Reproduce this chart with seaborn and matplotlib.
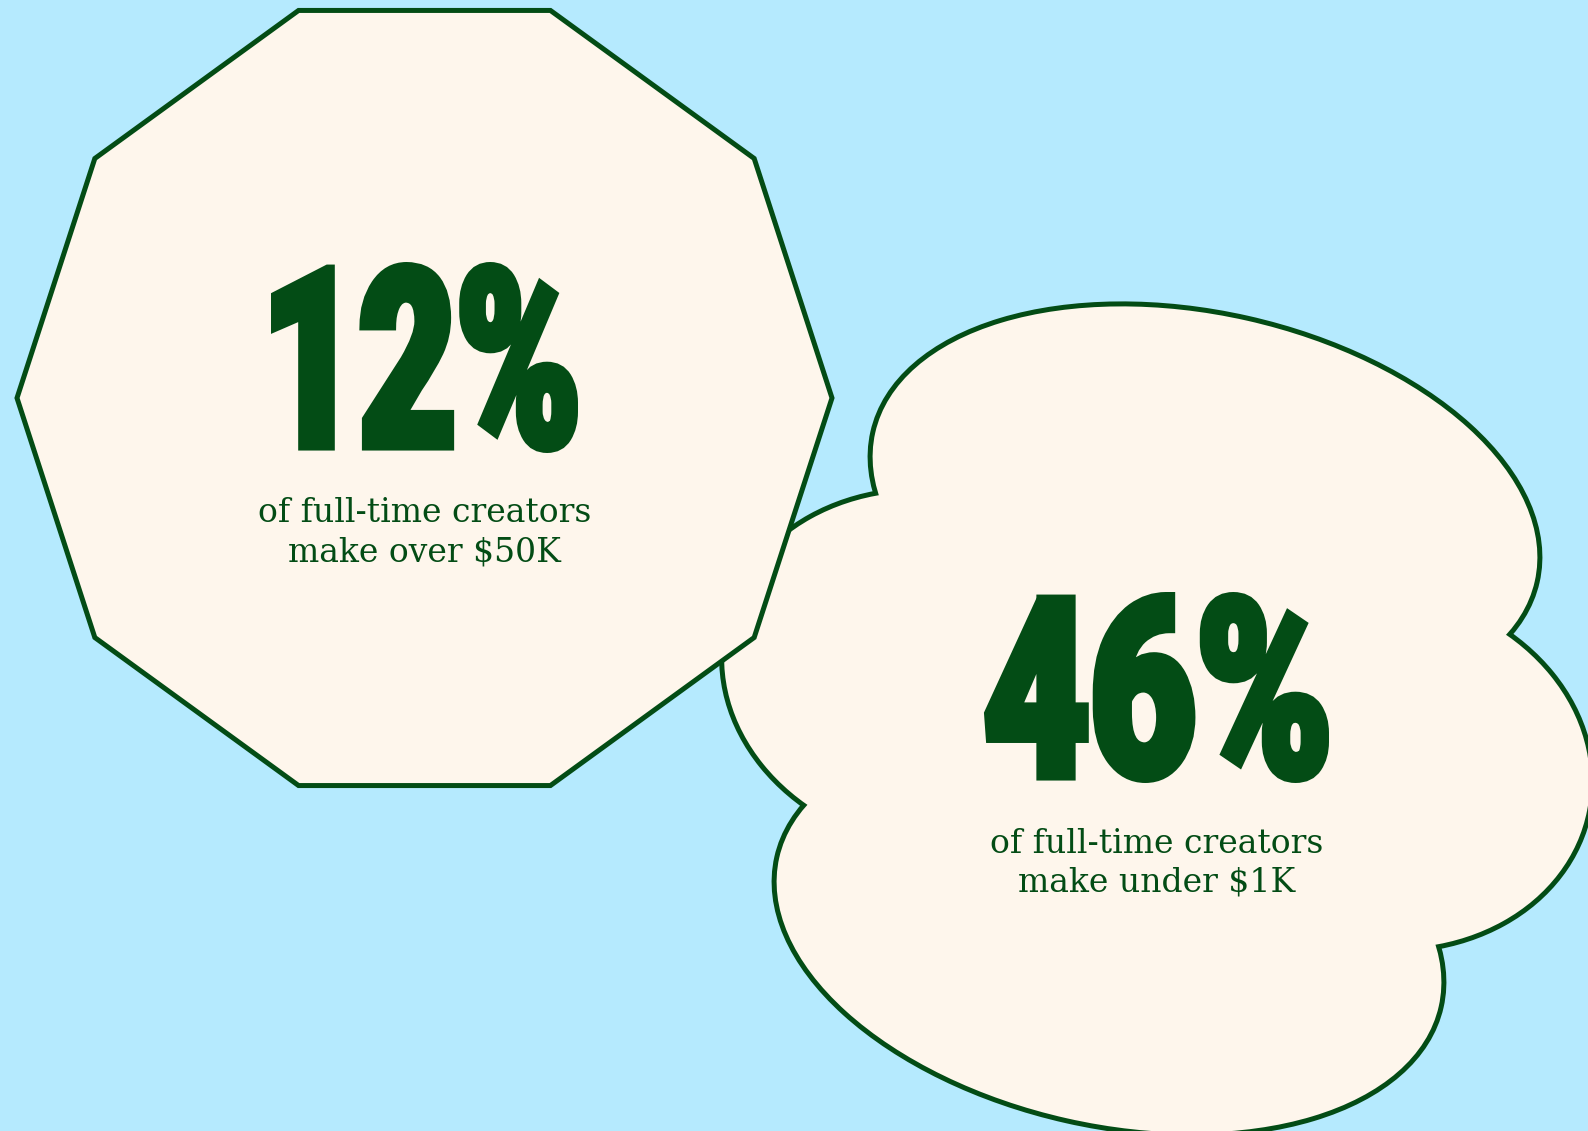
"""
Creator earnings badges: decagon + cloud with two headline stats.
"""
import numpy as np
import matplotlib
matplotlib.use("Agg")
import matplotlib.pyplot as plt
import matplotlib.patheffects as pe
from matplotlib.patches import Ellipse, RegularPolygon
from matplotlib.transforms import Affine2D
from matplotlib.textpath import TextPath
from matplotlib.font_manager import FontProperties
import seaborn as sns

# headline numbers and the captions under them
stat_values = [12, 46]
stat_captions = [
    ["of full-time creators", "make over $50K"],
    ["of full-time creators", "make under $1K"],
]

BG = "#B5EAFE"
CREAM = "#FEF6EC"
GREEN = "#034C15"

W, H, DPI = 1588, 1131, 100

# where each badge's text sits (pixels, y down): ink box of the big number
badges = [
    dict(x=424.5, left=271, top=262, bottom=453, width=307, caption_y=[522, 562]),
    dict(x=1156.5, left=984, top=592, bottom=783, width=345, caption_y=[853, 891]),
]

# cloud = union of tilted ellipses: cx, cy, semi-a, semi-b, tilt
cloud_lobes = [
    (1205, 507, 338, 191, 12.7),
    (1109, 932, 338, 191, 12.7),
    (1380, 770, 211, 177, 11),
    (934, 670, 211, 177, 11),
]
cloud_core = (1157, 720, 250, 170, 12)


class Squeeze(pe.AbstractPathEffect):
    """Draw text glyphs squeezed horizontally around x, with a same-colour stroke."""

    def __init__(self, ax, x, sx, lw):
        super().__init__()
        self.ax, self.x, self.sx, self.lw = ax, x, sx, lw

    def draw_path(self, renderer, gc, tpath, affine, rgbFace=None):
        x0 = self.ax.transData.transform((self.x, 0))[0]
        squeeze = Affine2D().translate(-x0, 0).scale(self.sx, 1).translate(x0, 0)
        gc0 = renderer.new_gc()
        gc0.copy_properties(gc)
        gc0.set_linewidth(self.lw)
        gc0.set_foreground(rgbFace)
        gc0.set_joinstyle("miter")
        renderer.draw_path(gc0, tpath, affine + squeeze, rgbFace)
        gc0.restore()


sns.set_theme(style="white", rc={"figure.facecolor": BG, "axes.facecolor": BG})
plt.rcParams["font.family"] = ["DejaVu Serif"]

fig = plt.figure(figsize=(W / DPI, H / DPI), dpi=DPI)
ax = fig.add_axes([0, 0, 1, 1])
ax.set_xlim(0, W)
ax.set_ylim(H, 0)
ax.axis("off")

# cloud outline: thick strokes below, plain fills on top
for cx, cy, a, b, ang in cloud_lobes:
    ax.add_patch(Ellipse((cx, cy), 2 * a, 2 * b, angle=ang, facecolor=CREAM,
                         edgecolor=GREEN, lw=7.2, zorder=1))
for cx, cy, a, b, ang in cloud_lobes + [cloud_core]:
    ax.add_patch(Ellipse((cx, cy), 2 * a, 2 * b, angle=ang, facecolor=CREAM,
                         edgecolor="none", zorder=2))

# decagon sits over the cloud
ax.add_patch(RegularPolygon((424.5, 398), 10, radius=407.5, orientation=np.pi / 10,
                            facecolor=CREAM, edgecolor=GREEN, lw=3.6, zorder=5))

big_fp = FontProperties(family=["Roboto Black", "Lato Black", "Roboto", "DejaVu Sans"],
                        weight="black")
stroke_px = 9

for value, lines, b in zip(stat_values, stat_captions, badges):
    label = f"{value}%"
    ext = TextPath((0, 0), label, size=100, prop=big_fp).get_extents()
    s = (b["bottom"] - b["top"] - stroke_px) / ext.height   # px per path unit
    sx = (b["width"] - stroke_px) / (ext.width * s)
    baseline = b["bottom"] - stroke_px / 2 + ext.y0 * s
    # pen origin so the squeezed ink starts at the left edge of the box
    pen_x = b["left"] + stroke_px / 2 - ext.x0 * s * sx
    ax.text(pen_x, baseline, label, fontproperties=big_fp,
            fontsize=100 * s * 72 / DPI, color=GREEN, ha="left", va="baseline",
            path_effects=[Squeeze(ax, pen_x, sx, stroke_px * 72 / DPI)], zorder=10)

    for line, y in zip(lines, b["caption_y"]):
        ax.text(b["x"], y, line.replace("$", r"\$"), fontsize=23.8, color=GREEN,
                ha="center", va="baseline", zorder=10)

fig.savefig("out.png", dpi=DPI, facecolor=BG)
